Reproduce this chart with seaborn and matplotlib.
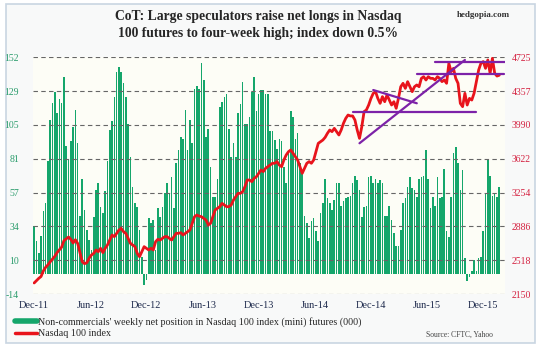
import numpy as np
import pandas as pd
import matplotlib
matplotlib.use("Agg")
import matplotlib.pyplot as plt
import seaborn as sns
from matplotlib.lines import Line2D
from matplotlib.patches import Rectangle

# weekly net position of non-commercials (000), Dec-11 .. Dec-15
net_pos = [
    34, 23, 15, 27, 44, 50, 79, 108, 120, 128, 113, 123, 120, 138, 90, 81, 93, 103, 115, 92,
    41, 67, 45, 31, 24, 17, 40, 59, 64, 47, 43, 58, 79, 101, 107, 124, 142, 145, 142, 134,
    124, 105, 82, 61, 50, 47, 31, 12, -8, -4, 39,
    36, 38, 17, 46, 40, 47, 57, 64, 57, 68, 46, 78, 87, 96, 95, 115, 87, 108, 92, 130,
    132, 130, 148, 136, 96, 102, 75, 54, 54, 67, 117, 121, 124, 126, 102, 82, 92, 82, 113,
    119, 135, 105, 105, 110, 128, 138, 114, 126, 129,
    129, 126, 126, 100, 100, 94, 88, 95, 93, 75, 64, 85, 114, 110, 95, 99, 78, 71, 41, 36,
    25, 37, 39, 30, 23, 43, 50, 67, 53, 50, 45, 52, 64, 64, 48, 51, 53, 54, 55, 64,
    69, 66, 59, 40, 47, 48, 68, 69, 64, 67,
    64, 66, 64, 41, 41, 48, 38, 29, 20, 20, 31, 50, 53, 61, 68, 60, 59, 54, 67, 68,
    69, 87, 67, 46, 54, 48, 68, 53, 54, 74, 30, 26, 54, 85, 89, 78, 59, 73, 11, -5,
    -2, 2, 10, 2, 11, 12, 30, 57, 81, 69, 55, 57, 54, 61,
]

# Nasdaq 100 index, same weeks
ndx = [
    2270, 2295, 2320, 2340, 2400, 2440, 2466, 2500, 2530, 2560, 2600, 2630, 2660, 2730, 2750, 2770, 2745, 2705, 2740, 2700,
    2600, 2500, 2480, 2490, 2540, 2574, 2592, 2629, 2610, 2647, 2600, 2647, 2683, 2737, 2792, 2774, 2810, 2846, 2864, 2828,
    2810, 2756, 2701, 2683, 2665, 2592, 2556, 2610, 2665, 2647, 2629,
    2647, 2629, 2719, 2745, 2737, 2756, 2774, 2774, 2756, 2737, 2774, 2810, 2810, 2817, 2792, 2810, 2828, 2846, 2919, 2991,
    3009, 2998, 2991, 2973, 2955, 2901, 2919, 2991, 3064, 3082, 3100, 3136, 3118, 3100, 3100, 3118, 3173, 3209, 3245, 3245,
    3263, 3318, 3390, 3390, 3372, 3408, 3426, 3463, 3499,
    3481, 3517, 3535, 3553, 3572, 3572, 3590, 3553, 3535, 3608, 3662, 3698, 3717, 3680, 3644, 3608, 3535, 3463, 3517, 3572,
    3590, 3572, 3608, 3698, 3789, 3807, 3825, 3854, 3898, 3934, 3916, 3952, 3916, 3880, 3934, 4007, 4061, 4097, 4087, 4087,
    4043, 3934, 3843, 3970, 4134, 4152, 4206, 4278, 4333, 4351,
    4278, 4224, 4297, 4242, 4315, 4260, 4206, 4242, 4170, 4278, 4405, 4442, 4387, 4460, 4405, 4351, 4405, 4424, 4405, 4496,
    4514, 4478, 4514, 4496, 4496, 4478, 4514, 4496, 4460, 4478, 4442, 4660, 4569, 4605, 4496, 4442, 4224, 4188, 4333, 4206,
    4278, 4260, 4333, 4460, 4587, 4660, 4678, 4605, 4696, 4551, 4714, 4551, 4521, 4530,
]

x_labels = ["Dec-11", "Jun-12", "Dec-12", "Jun-13", "Dec-13", "Jun-14", "Dec-14", "Jun-15", "Dec-15"]
left_ticks = [-14, 10, 34, 57, 81, 105, 129, 152]
right_ticks = [2150, 2518, 2886, 3254, 3622, 3990, 4357, 4725]

# purple trend lines drawn on the chart: (week start, week end, index start, index end)
trend_lines = [
    (139, 193, 4127, 4127),
    (148, 167, 4369, 4225),
    (142, 188, 3790, 4696),
    (167, 205, 4540, 4540),
    (175, 206, 4677, 4677),
]

df = pd.DataFrame({"week": np.arange(len(net_pos)), "net": net_pos, "ndx": ndx})

sns.set_theme(style="white")
plt.rcParams["font.family"] = ["Liberation Serif", "DejaVu Serif"]

fig = plt.figure(figsize=(5.42, 3.51), dpi=100)
fig.patch.set_facecolor("white")
fig.add_artist(Rectangle((6 / 542, 8 / 351), 529 / 542, 339 / 351, transform=fig.transFigure,
                         facecolor="#f8f9f9", edgecolor="#c9d5e2", lw=1.2, zorder=0))

ax = fig.add_axes([33 / 542, 1 - 294 / 351, 472 / 542, 236.7 / 351])
ax.set_facecolor("#fdfdf6")

sns.barplot(data=df, x="week", y="net", color="#15a66b", saturation=1, width=0.7,
            linewidth=0, ax=ax)
ax.set_ylim(left_ticks[0], left_ticks[-1])
ax.set_xlim(-0.5, len(net_pos) + 1.5)
ax.set_yticks(np.linspace(left_ticks[0], left_ticks[-1], len(left_ticks)))
ax.set_yticklabels([str(t) for t in left_ticks], color="#2a9c6c", fontsize=7)
ax.set_xticks(np.arange(len(x_labels)) * 24.5)
ax.set_xticklabels(x_labels, color="#1f2b4d", fontsize=7.5)
ax.tick_params(axis="y", length=0, pad=10)
ax.tick_params(axis="x", length=0, pad=5)
ax.set_xlabel(None)
ax.set_ylabel(None)
for y in ax.get_yticks():
    ax.axhline(y, color="#666666", lw=0.8, ls=(0, (4, 3)), zorder=3)
for s in ax.spines.values():
    s.set_visible(False)

ax2 = ax.twinx()
sns.lineplot(data=df, x="week", y="ndx", color="#e8141c", lw=2, ax=ax2)
for x0, x1, y0, y1 in trend_lines:
    ax2.plot([x0, x1], [y0, y1], color="#7d22a8", lw=1.6)
ax2.set_ylim(right_ticks[0], right_ticks[-1])
ax2.set_yticks(np.linspace(right_ticks[0], right_ticks[-1], len(right_ticks)))
ax2.set_yticklabels([str(t) for t in right_ticks], color="#d42140", fontsize=7)
ax2.tick_params(axis="y", length=0, pad=5)
ax2.set_ylabel(None)
ax2.set_xlabel(None)
for s in ax2.spines.values():
    s.set_visible(False)

fig.text(0.476, 1 - 10 / 351, "CoT: Large speculators raise net longs in Nasdaq\n100 futures to four-week high; index down 0.5%",
         ha="center", va="top", fontsize=9.8, fontweight="bold", linespacing=1.45)
fig.text(510 / 542, 1 - 15 / 351, "hedgopia.com", ha="right", va="center", fontsize=6.5, fontweight="bold", color="#333333")
fig.text(493 / 542, 1 - 335 / 351, "Source: CFTC, Yahoo", ha="right", va="center", fontsize=5.5, color="#444444")

handles = [Line2D([], [], color="#15a66b", lw=4), Line2D([], [], color="#e8141c", lw=2.5)]
labels = ["Non-commercials' weekly net position in Nasdaq 100 index (mini) futures (000)", "Nasdaq 100 index"]
fig.legend(handles, labels, loc="lower left", bbox_to_anchor=(8 / 542, 6 / 351), frameon=False,
           fontsize=7.2, handlelength=2.2, handletextpad=0.1, labelspacing=0.2, borderpad=0.2)

fig.savefig("out.png", dpi=100)
